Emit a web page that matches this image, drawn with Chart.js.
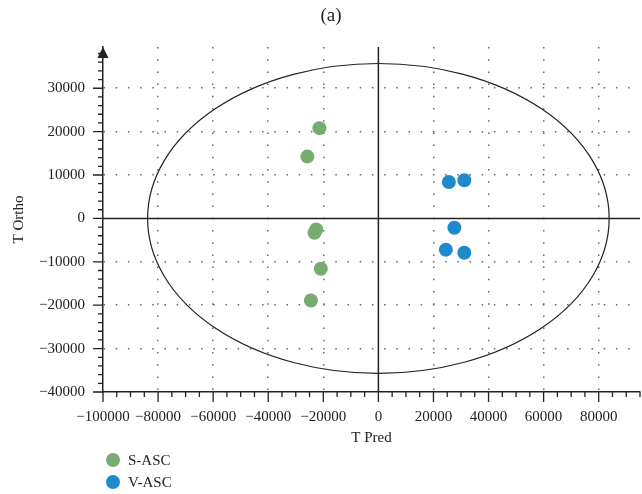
<!DOCTYPE html>
<html>
<head>
<meta charset="utf-8">
<script src="https://cdn.jsdelivr.net/npm/chart.js@4"></script>
<style>
  body { margin: 0; background: #fff; overflow: hidden; }
  #wrap { position: relative; width: 642px; height: 494px; overflow: hidden; font-family: "Liberation Serif", serif; color: #222; }
  #grafico { position: absolute; left: 0; top: 0; }
  #titulo { position: absolute; top: 4px; left: 281px; width: 100px; text-align: center; font-size: 19px; }
  .leg { position: absolute; left: 106px; font-size: 15px; height: 16px; line-height: 16px; }
  .leg span { display: inline-block; width: 14px; height: 14px; border-radius: 50%; vertical-align: middle; margin-right: 8px; margin-top: -3px; }
</style>
</head>
<body>
<div id="wrap">
  <canvas id="grafico" width="647" height="494"></canvas>
  <div id="titulo">(a)</div>
  <div class="leg" style="top:452px"><span style="background:#78ab72"></span>S-ASC</div>
  <div class="leg" style="top:474px"><span style="background:#1e8acb"></span>V-ASC</div>
</div>
<script>
const sAscX = [-21400, -25800, -22600, -23200, -20900, -24500];
const sAscY = [20800, 14250, -2550, -3300, -11600, -18900];
const vAscX = [25600, 31200, 27600, 24500, 31200];
const vAscY = [8400, 8800, -2150, -7200, -7900];

const xTicks = [-100000, -80000, -60000, -40000, -20000, 0, 20000, 40000, 60000, 80000];
const yTicks = [-40000, -30000, -20000, -10000, 0, 10000, 20000, 30000];
const xMinorStep = 5000;
const yMinorStep = 2000;

// elipse de confianca (centro e raios)
const elipse = { cx: 0, cy: 0, rx: 83800, ry: 35700 };

const corVerde = '#78ab72';
const corAzul = '#1e8acb';
const corLinha = '#222';

function pontos(xs, ys) {
  return xs.map((x, i) => ({ x: x, y: ys[i] }));
}

function rotulo(v) {
  return v < 0 ? '\u2212' + Math.abs(v) : String(v);
}

function corGrade(ctx, borda) {
  const v = ctx.tick ? ctx.tick.value : null;
  if (v === null || v === 0 || v === borda) return 'rgba(0,0,0,0)';
  return '#666';
}

const extras = {
  id: 'extras',
  beforeDatasetsDraw(chart) {
    const { ctx, chartArea } = chart;
    const sx = chart.scales.x, sy = chart.scales.y;
    ctx.save();
    ctx.strokeStyle = corLinha;
    ctx.lineWidth = 1.5;
    // eixos em zero
    const x0 = sx.getPixelForValue(0), y0 = sy.getPixelForValue(0);
    ctx.beginPath();
    ctx.moveTo(x0, chartArea.top);
    ctx.lineTo(x0, chartArea.bottom);
    ctx.moveTo(chartArea.left, y0);
    ctx.lineTo(chartArea.right, y0);
    ctx.stroke();
    // elipse
    const cx = sx.getPixelForValue(elipse.cx), cy = sy.getPixelForValue(elipse.cy);
    const rx = sx.getPixelForValue(elipse.cx + elipse.rx) - cx;
    const ry = cy - sy.getPixelForValue(elipse.cy + elipse.ry);
    ctx.lineWidth = 1.2;
    ctx.beginPath();
    ctx.ellipse(cx, cy, rx, ry, 0, 0, Math.PI * 2);
    ctx.stroke();
    ctx.restore();
  },
  afterDraw(chart) {
    const { ctx, chartArea } = chart;
    const sx = chart.scales.x, sy = chart.scales.y;
    ctx.save();
    ctx.strokeStyle = corLinha;
    ctx.lineWidth = 1.3;
    ctx.beginPath();
    for (let v = sx.min; v <= sx.max; v += xMinorStep) {
      const px = sx.getPixelForValue(v);
      const len = (v % 20000 === 0) ? 10 : 5;
      ctx.moveTo(px, chartArea.bottom);
      ctx.lineTo(px, chartArea.bottom + len);
    }
    for (let v = sy.min; v <= sy.max; v += yMinorStep) {
      const py = sy.getPixelForValue(v);
      const len = (v % 10000 === 0) ? 10 : 5;
      ctx.moveTo(chartArea.left, py);
      ctx.lineTo(chartArea.left - len, py);
    }
    ctx.stroke();
    // seta do eixo y
    ctx.fillStyle = corLinha;
    ctx.beginPath();
    ctx.moveTo(chartArea.left, chartArea.top);
    ctx.lineTo(chartArea.left - 5.5, chartArea.top + 11);
    ctx.lineTo(chartArea.left + 5.5, chartArea.top + 11);
    ctx.closePath();
    ctx.fill();
    ctx.restore();
  }
};

const fonteEixo = { family: '"Liberation Serif", serif', size: 15 };

new Chart(document.getElementById('grafico'), {
  type: 'scatter',
  data: {
    datasets: [
      { label: 'S-ASC', data: pontos(sAscX, sAscY), backgroundColor: corVerde, borderWidth: 0, pointRadius: 7, pointHoverRadius: 7 },
      { label: 'V-ASC', data: pontos(vAscX, vAscY), backgroundColor: corAzul, borderWidth: 0, pointRadius: 7, pointHoverRadius: 7 }
    ]
  },
  options: {
    responsive: false,
    animation: false,
    layout: { padding: { left: 0, right: 0, top: 47, bottom: 47 } },
    plugins: {
      legend: { display: false },
      tooltip: { enabled: false }
    },
    scales: {
      x: {
        type: 'linear',
        min: -100000,
        max: 95000,
        afterBuildTicks: (s) => { s.ticks = xTicks.map(v => ({ value: v })); },
        afterFit: (s) => { s.height = 55; },
        ticks: { autoSkip: false, maxRotation: 0, padding: 16, color: corLinha, font: fonteEixo, callback: rotulo },
        grid: { drawTicks: false, lineWidth: 1.5, color: (c) => corGrade(c, -100000) },
        border: { display: true, color: corLinha, width: 1.5, dash: [1.5, 10.7] },
        title: { display: true, text: 'T Pred', color: corLinha, font: fonteEixo, padding: { top: 0, bottom: 0 } }
      },
      y: {
        type: 'linear',
        min: -40000,
        max: 39500,
        afterBuildTicks: (s) => { s.ticks = yTicks.map(v => ({ value: v })); },
        afterFit: (s) => { s.width = 103; },
        ticks: { autoSkip: false, padding: 18, color: corLinha, font: fonteEixo, callback: rotulo },
        grid: { drawTicks: false, lineWidth: 1.5, color: (c) => corGrade(c, -40000) },
        border: { display: true, color: corLinha, width: 1.5, dash: [1.5, 10.7] },
        title: { display: true, text: 'T Ortho', color: corLinha, font: fonteEixo, padding: { top: 10, bottom: 0 } }
      }
    }
  },
  plugins: [extras]
});
</script>
</body>
</html>
